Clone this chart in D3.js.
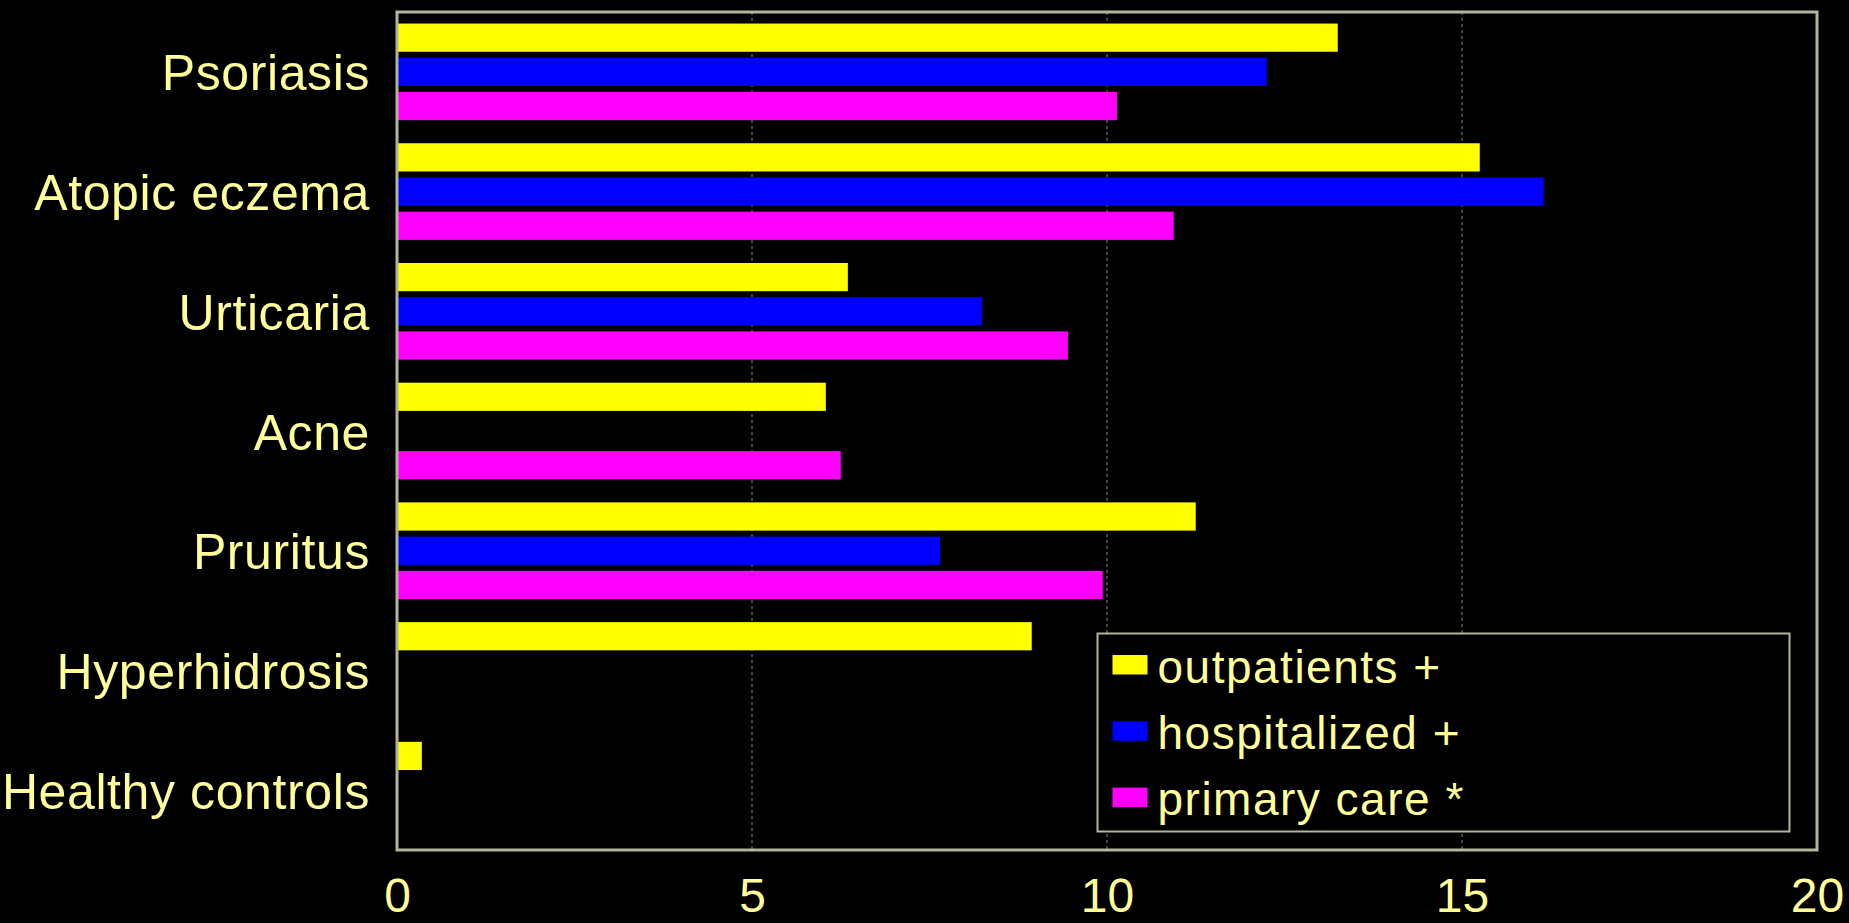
<!DOCTYPE html>
<html>
<head>
<meta charset="utf-8">
<script src="https://cdn.jsdelivr.net/npm/d3@7"></script>
<style>
  html, body { margin: 0; padding: 0; background: #000; }
  svg { display: block; }
  text { font-family: "Liberation Sans", Arial, sans-serif; fill: #ffff99; }
</style>
</head>
<body>
<svg id="chart" width="1849" height="923"></svg>
<script>
var categories = ["Psoriasis", "Atopic eczema", "Urticaria", "Acne", "Pruritus", "Hyperhidrosis", "Healthy controls"];
var series = ["outpatients +", "hospitalized +", "primary care *"];
var outpatients = [13.25, 15.25, 6.35, 6.04, 11.25, 8.94, 0.35];
var hospitalized = [12.25, 16.15, 8.24, null, 7.65, null, null];
var primary_care = [10.14, 10.94, 9.45, 6.25, 9.94, null, null];
var x_ticks = [0, 5, 10, 15, 20];

var colors = ["#ffff00", "#0000ff", "#ff00ff"];
var values = [outpatients, hospitalized, primary_care];

var svg = d3.select("#chart"),
    margin = {top: 12, left: 397, right: 32, bottom: 73},
    width = 1849 - margin.left - margin.right,
    height = 923 - margin.top - margin.bottom,
    g = svg.append("g").attr("transform", "translate(" + margin.left + "," + margin.top + ")"),
    frame_color = "#b4b49c";

var x = d3.scaleLinear().domain([0, 20]).range([0, width]);

var y = d3.scaleBand().domain(categories).range([0, height]).padding(0);

var y1 = d3.scaleBand()
    .domain(d3.range(series.length))
    .range([0, y.bandwidth()])
    .paddingInner(0.175)
    .paddingOuter(0.3375);

// dashed gridlines
g.selectAll(".grid")
    .data(x_ticks.slice(1, -1))
    .enter()
    .append("line")
    .attr("class", "grid")
    .attr("x1", function(d) { return x(d); })
    .attr("x2", function(d) { return x(d); })
    .attr("y1", 0)
    .attr("y2", height)
    .attr("stroke", "#8a8a80")
    .attr("stroke-width", 1)
    .attr("stroke-dasharray", "3,3");

// bars
var rows = [];
categories.forEach(function(c, i) {
    values.forEach(function(s, k) {
        if (s[i] != null) rows.push({category: c, k: k, value: s[i]});
    });
});

g.selectAll(".bar")
    .data(rows)
    .enter()
    .append("rect")
    .attr("class", "bar")
    .attr("x", x(0))
    .attr("y", function(d) { return y(d.category) + y1(d.k); })
    .attr("width", function(d) { return x(d.value) - x(0); })
    .attr("height", y1.bandwidth())
    .attr("fill", function(d) { return colors[d.k]; });

// frame
g.append("rect")
    .attr("x", 0)
    .attr("y", 0)
    .attr("width", width)
    .attr("height", height)
    .attr("fill", "none")
    .attr("stroke", frame_color)
    .attr("stroke-width", 3);

// x axis
var xAxis = g.append("g")
    .attr("transform", "translate(0," + height + ")")
    .call(d3.axisBottom(x).tickValues(x_ticks).tickSize(0).tickPadding(0));
xAxis.select(".domain").remove();
xAxis.selectAll("text")
    .attr("y", 62)
    .attr("dy", null)
    .attr("font-size", 48)
    .attr("font-family", null)
    .attr("fill", null);

// y axis labels
var yAxis = g.append("g")
    .call(d3.axisLeft(y).tickSize(0).tickPadding(27));
yAxis.select(".domain").remove();
yAxis.selectAll("text")
    .attr("font-size", 50)
    .attr("letter-spacing", 0.6)
    .attr("dy", "0.37em")
    .attr("font-family", null)
    .attr("fill", null);

// legend
var legend = svg.append("g").attr("transform", "translate(1097.5,633.5)");
legend.append("rect")
    .attr("width", 692)
    .attr("height", 198)
    .attr("fill", "#000")
    .attr("stroke", frame_color)
    .attr("stroke-width", 2);

var item = legend.selectAll(".item")
    .data(series)
    .enter()
    .append("g")
    .attr("class", "item")
    .attr("transform", function(d, i) { return "translate(15," + (21.5 + i * 66.3) + ")"; });

item.append("rect")
    .attr("width", 35)
    .attr("height", 19.5)
    .attr("fill", function(d, i) { return colors[i]; });

item.append("text")
    .attr("x", 45)
    .attr("y", 27.5)
    .attr("font-size", 46)
    .attr("letter-spacing", 1.5)
    .text(function(d) { return d; });
</script>
</body>
</html>
